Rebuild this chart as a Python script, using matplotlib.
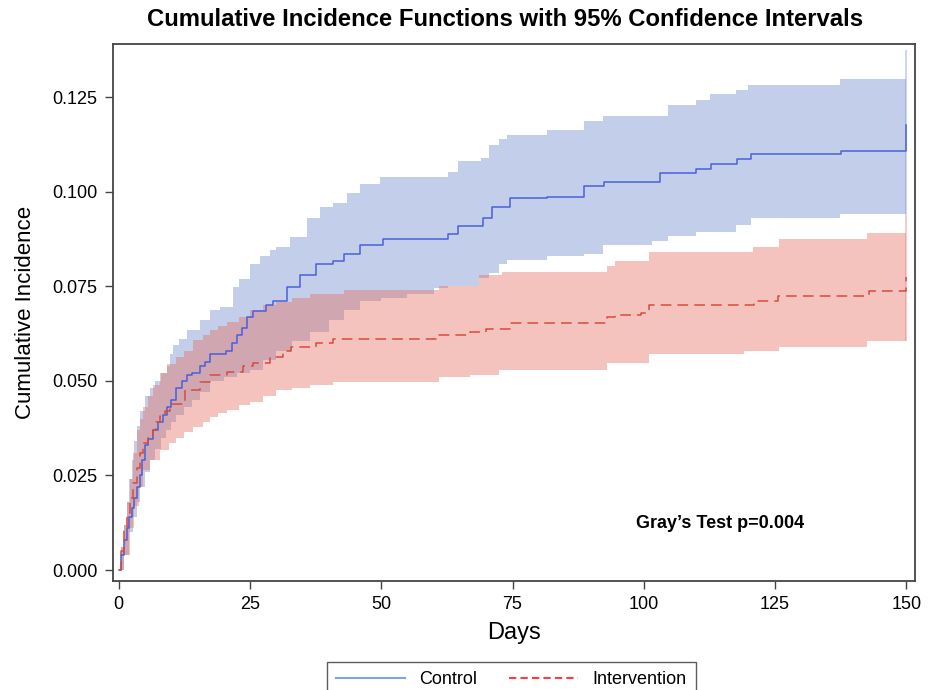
import numpy as np
import matplotlib
matplotlib.use("Agg")
import matplotlib.pyplot as plt
from matplotlib.lines import Line2D

plt.rcParams['font.family'] = ['Liberation Sans', 'DejaVu Sans']

# ---------------- data ----------------
ctrl_days = [0, 0.5, 1, 1.5, 2, 2.5, 3, 3.5, 4, 4.5, 5, 5.5, 6.5, 7.5, 8.5, 9.2, 10, 11, 12, 13,
             14, 15.5, 16.5, 17.4, 20.5, 21.5, 22.5, 23.5, 24.4, 25.6, 28, 29.4, 32, 34.5,
             37.6, 40.8, 43, 45.9, 50.3, 62.7, 64.6, 69.4, 71, 74.5, 81.5, 88.7, 92.5, 103,
             110, 112.8, 117.8, 120.4, 137.5, 150]
ctrl_cif = [0, 0.004, 0.008, 0.011, 0.014, 0.0165, 0.019, 0.022, 0.025, 0.029, 0.033, 0.0345,
            0.037, 0.039, 0.041, 0.043, 0.045, 0.048, 0.050, 0.0515, 0.052, 0.054, 0.055, 0.057,
            0.058, 0.060, 0.062, 0.064, 0.067, 0.0685, 0.070, 0.071, 0.0747, 0.078, 0.081,
            0.0817, 0.0836, 0.086, 0.0874, 0.0888, 0.091, 0.093, 0.096, 0.0983, 0.0987, 0.1016,
            0.1025, 0.105, 0.106, 0.1072, 0.1087, 0.110, 0.1108, 0.1177]

ctrl_upper_days = [0, 0.5, 1, 1.5, 2, 2.5, 3, 3.5, 4, 5, 6, 7, 8, 9.2, 9.8, 10.4, 11.5, 13, 15.5,
                   17.4, 19.3, 21.8, 23, 25, 27, 28.9, 30, 32.6, 35.8, 38.3, 40.8, 43.4, 45.9,
                   49.7, 62.7, 64.6, 69, 70.6, 72.5, 74, 81.5, 88.7, 92.3, 104.6, 110, 112.6,
                   117.6, 119.8, 137.3, 150]
ctrl_upper = [0, 0.006, 0.012, 0.018, 0.024, 0.029, 0.034, 0.038, 0.042, 0.046, 0.048, 0.050,
              0.052, 0.0540, 0.057, 0.0595, 0.061, 0.0634, 0.066, 0.0687, 0.0695, 0.0748, 0.077,
              0.081, 0.083, 0.0845, 0.0855, 0.088, 0.093, 0.096, 0.097, 0.0997, 0.102, 0.104,
              0.1053, 0.108, 0.109, 0.1124, 0.114, 0.115, 0.1162, 0.1188, 0.120, 0.1228, 0.1242,
              0.1257, 0.127, 0.1282, 0.1297, 0.1375]

ctrl_lower_days = [0, 1, 2, 2.8, 3.5, 4, 5, 6, 7, 8, 9, 10, 11, 12.5, 14, 15.5, 17.4, 20, 22.5,
                   25, 27.5, 30, 33, 36.5, 40, 43, 46, 50, 55, 60, 62.7, 68.7, 70.6, 72.5, 74,
                   81.5, 88.7, 92.3, 101.5, 104.6, 110, 117.6, 120.4, 137.3, 150]
ctrl_lower = [0, 0.004, 0.010, 0.014, 0.018, 0.022, 0.026, 0.029, 0.032, 0.035, 0.037, 0.039,
              0.041, 0.043, 0.045, 0.047, 0.050, 0.051, 0.052, 0.053, 0.0555, 0.058, 0.0605,
              0.063, 0.066, 0.0687, 0.071, 0.072, 0.073, 0.0745, 0.075, 0.0772, 0.0785, 0.0808,
              0.082, 0.0831, 0.0836, 0.086, 0.087, 0.0883, 0.0893, 0.0912, 0.093, 0.094, 0.094]

int_days = [0, 0.5, 1, 1.5, 2.2, 2.8, 3.5, 4.1, 4.7, 5.6, 6.6, 7.2, 7.9, 8.8, 9.8, 12.7, 15.5,
            17.4, 20.6, 23.7, 25.6, 28.8, 31.3, 32.9, 37.6, 40.8, 61, 67, 70, 74.5, 93, 94.5,
            99.5, 101, 121, 125.5, 142.8, 150]
int_cif = [0, 0.005, 0.011, 0.015, 0.019, 0.023, 0.027, 0.031, 0.0335, 0.035, 0.037, 0.039,
           0.0406, 0.042, 0.044, 0.0477, 0.0496, 0.0515, 0.0524, 0.0539, 0.0548, 0.0562, 0.058,
           0.059, 0.060, 0.061, 0.062, 0.0628, 0.0638, 0.0652, 0.067, 0.0675, 0.068, 0.070,
           0.0711, 0.0725, 0.0737, 0.0775]

int_upper_days = [0, 0.5, 1, 1.5, 2.1, 2.7, 3.4, 4, 4.6, 5.5, 6.5, 7.8, 9.2, 11, 12.5, 14.2, 16,
                  17.4, 19, 20.6, 23, 25, 27.5, 30, 33, 36.5, 43, 61, 68.7, 73, 93, 94.5, 101,
                  120.8, 125.8, 142.5, 150]
int_upper = [0, 0.006, 0.012, 0.018, 0.024, 0.031, 0.037, 0.040, 0.043, 0.046, 0.049, 0.052,
             0.0545, 0.0563, 0.058, 0.0607, 0.062, 0.0634, 0.0645, 0.0656, 0.067, 0.0687, 0.070,
             0.0709, 0.072, 0.073, 0.074, 0.0751, 0.078, 0.0789, 0.0803, 0.0817, 0.084, 0.0855,
             0.0874, 0.0891, 0.094]

int_lower_days = [0, 1, 2.2, 3, 3.8, 4.6, 6, 7.8, 9.5, 11, 12.5, 14.2, 16, 17.4, 19, 20.6, 23,
                  25, 27.5, 30, 33, 36.5, 40.8, 61, 67, 72.5, 93, 101, 119, 125.8, 142.5, 150]
int_lower = [0, 0.004, 0.011, 0.017, 0.022, 0.0264, 0.029, 0.0317, 0.0335, 0.0348, 0.0365,
             0.0379, 0.039, 0.0405, 0.0415, 0.0423, 0.0435, 0.0444, 0.046, 0.0475, 0.0482,
             0.0489, 0.0496, 0.051, 0.0515, 0.0529, 0.0548, 0.0572, 0.058, 0.059, 0.0605,
             0.0605]

series_labels = ["Control", "Intervention"]
x_ticks = [0, 25, 50, 75, 100, 125, 150]
y_ticks = [0.000, 0.025, 0.050, 0.075, 0.100, 0.125]
test_text = "Gray\u2019s Test p=0.004"


def step_lookup(days, vals, grid):
    days = np.asarray(days); vals = np.asarray(vals)
    idx = np.searchsorted(days, grid, side='right') - 1
    return vals[np.clip(idx, 0, len(vals) - 1)]


def band(ax, ud, uv, ld, lv, color, alpha):
    grid = np.unique(np.concatenate([ud, ld]))
    up = step_lookup(ud, uv, grid)
    lo = step_lookup(ld, lv, grid)
    up_f = up.copy(); lo_f = lo.copy()
    up_f[-1] = up[-2]; lo_f[-1] = lo[-2]
    ax.fill_between(grid, lo_f, up_f, step='post', color=color, alpha=alpha, lw=0, zorder=1)
    ax.vlines(grid[-1], lo[-1], up[-1], color=color, alpha=alpha, lw=1.2, zorder=1)


fig = plt.figure(figsize=(9.33, 6.9), dpi=100)
ax = fig.add_axes([0.121, 0.158, 0.860, 0.778])

blue_fill = (0.41, 0.53, 0.80)
red_fill = (0.90, 0.41, 0.36)
band(ax, ctrl_upper_days, ctrl_upper, ctrl_lower_days, ctrl_lower, blue_fill, 0.40)
band(ax, int_upper_days, int_upper, int_lower_days, int_lower, red_fill, 0.40)

ax.plot(ctrl_days, ctrl_cif, drawstyle='steps-post', color='#4a5fd8', lw=1.1, zorder=3)
ax.plot(int_days, int_cif, drawstyle='steps-post', color='#d94a3e', lw=1.1,
        dashes=(7, 4), zorder=3)

ax.set_xlim(-1.1, 151.7)
ax.set_ylim(-0.0029, 0.139)
ax.set_xticks(x_ticks)
ax.set_xticklabels([str(t) for t in x_ticks])
ax.set_yticks(y_ticks)
ax.set_yticklabels([f"{t:.3f}" for t in y_ticks])
ax.tick_params(direction='out', length=6, width=1, color='#444444', labelsize=13, pad=5)
for s in ax.spines.values():
    s.set_color('#444444'); s.set_linewidth(1.3)

ax.set_xlabel("Days", fontsize=17, labelpad=6)
ax.set_ylabel("Cumulative Incidence", fontsize=16, labelpad=12)
fig.text(0.541, 1 - 20 / 690, "Cumulative Incidence Functions with 95% Confidence Intervals",
         fontsize=17.2, fontweight='bold', ha='center', va='center')

ax.text(114.5, 0.0124, test_text, fontsize=13, fontweight='bold', ha='center', va='center')

handles = [Line2D([], [], color='#7ea6d8', lw=1.5),
           Line2D([], [], color='#ff3b3b', lw=1.5, dashes=(3.5, 2))]
fig.legend(handles, series_labels, loc='upper center', bbox_to_anchor=(0.548, 1 - 653 / 690),
           ncol=2, frameon=True, fancybox=False, edgecolor='#333333', fontsize=13,
           handlelength=3.8, columnspacing=1.8, borderpad=0.5)

fig.savefig("out.png", dpi=100)
